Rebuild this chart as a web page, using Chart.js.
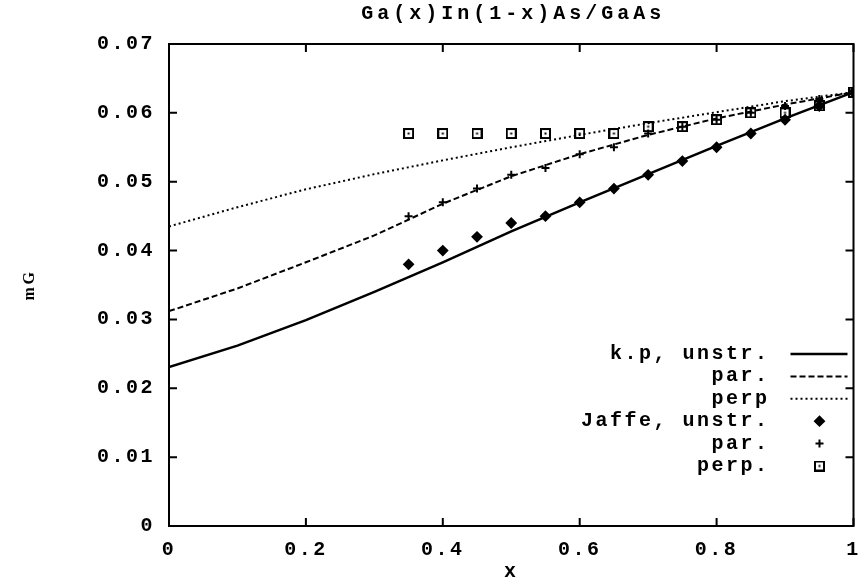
<!DOCTYPE html>
<html>
<head>
<meta charset="utf-8">
<script src="https://cdn.jsdelivr.net/npm/chart.js@4/dist/chart.umd.min.js"></script>
<style>
  body { margin: 0; background: #fff; }
  canvas { display: block; }
</style>
</head>
<body>
<canvas id="massChart" width="861" height="584"></canvas>
<script>
// k.p curves, sampled on a regular x grid
var xGrid = [0, 0.1, 0.2, 0.3, 0.4, 0.5, 0.6, 0.7, 0.8, 0.9, 1.0];
var kpUnstr = [0.0231, 0.0262, 0.0299, 0.0340, 0.0383, 0.0428, 0.0470, 0.0511, 0.0552, 0.0592, 0.0630];
var kpPar   = [0.0312, 0.0345, 0.0383, 0.0422, 0.0468, 0.0508, 0.0540, 0.0568, 0.0592, 0.0612, 0.0630];
var kpPerp  = [0.0435, 0.0463, 0.0489, 0.0511, 0.0531, 0.0550, 0.0568, 0.0585, 0.0601, 0.0617, 0.0630];

// Jaffe points
var jaffeX     = [0.35, 0.40, 0.45, 0.50, 0.55, 0.60, 0.65, 0.70, 0.75, 0.80, 0.85, 0.90, 0.95, 1.00];
var jaffeUnstr = [0.038, 0.040, 0.042, 0.044, 0.045, 0.047, 0.049, 0.051, 0.053, 0.055, 0.057, 0.059, 0.061, 0.063];
var jaffePar   = [0.045, 0.047, 0.049, 0.051, 0.052, 0.054, 0.055, 0.057, 0.058, 0.059, 0.060, 0.061, 0.062, 0.063];
var jaffePerp  = [0.057, 0.057, 0.057, 0.057, 0.057, 0.057, 0.057, 0.058, 0.058, 0.059, 0.060, 0.060, 0.061, 0.063];

var xTickLabels = ['0', '0.2', '0.4', '0.6', '0.8', '1'];
var yTickLabels = ['0', '0.01', '0.02', '0.03', '0.04', '0.05', '0.06', '0.07'];
var legendLabels = ['k.p, unstr.', 'par.', 'perp', 'Jaffe, unstr.', 'par.', 'perp.'];
var chartTitle = 'Ga(x)In(1-x)As/GaAs';

var monoFont = '"Liberation Mono", "DejaVu Sans Mono", monospace';

function pairs(xs, ys) {
    return xs.map(function(x, i) { return { x: x, y: ys[i] }; });
}

// hollow square with a dot in the middle
function squareMark() {
    var c = document.createElement('canvas');
    c.width = 11; c.height = 11;
    var g = c.getContext('2d');
    g.fillStyle = '#000';
    g.fillRect(0, 0, 11, 11);
    g.fillStyle = '#fff';
    g.fillRect(2, 2, 7, 7);
    g.fillStyle = '#000';
    g.fillRect(4.5, 4.5, 2, 2);
    return c;
}
var squareImg = squareMark();

function lineSet(label, ys, dash, width) {
    return {
        label: label,
        data: pairs(xGrid, ys),
        showLine: true,
        borderColor: '#000',
        borderWidth: width,
        borderDash: dash,
        pointRadius: 0,
        fill: false
    };
}

function pointSet(label, ys, style, radius) {
    return {
        label: label,
        data: pairs(jaffeX, ys),
        showLine: false,
        pointStyle: style,
        pointRadius: radius,
        backgroundColor: '#000',
        borderColor: '#000',
        borderWidth: 2
    };
}

var datasets = [
    lineSet(legendLabels[0], kpUnstr, [], 2.5),
    lineSet(legendLabels[1], kpPar, [6, 3], 2),
    lineSet(legendLabels[2], kpPerp, [2, 3], 2),
    pointSet(legendLabels[3], jaffeUnstr, 'rectRot', 4.5),
    pointSet(legendLabels[4], jaffePar, 'cross', 4),
    pointSet(legendLabels[5], jaffePerp, squareImg, 5.5)
];

// typewriter spacing for every label
var spacingPlugin = {
    id: 'spacing',
    beforeDraw: function(chart) { chart.ctx.letterSpacing = '2.5px'; }
};

// frame with inward ticks, title and the key in the lower right
var framePlugin = {
    id: 'frame',
    afterDraw: function(chart) {
        var ctx = chart.ctx;
        var a = chart.chartArea;
        var xs = chart.scales.x, ys = chart.scales.y;
        var tick = 8;
        ctx.save();
        ctx.strokeStyle = '#000';
        ctx.lineWidth = 2;
        ctx.strokeRect(a.left, a.top, a.right - a.left, a.bottom - a.top);
        ctx.beginPath();
        xs.ticks.forEach(function(t) {
            var px = xs.getPixelForValue(t.value);
            ctx.moveTo(px, a.bottom); ctx.lineTo(px, a.bottom - tick);
            ctx.moveTo(px, a.top); ctx.lineTo(px, a.top + tick);
        });
        ys.ticks.forEach(function(t) {
            var py = ys.getPixelForValue(t.value);
            ctx.moveTo(a.left, py); ctx.lineTo(a.left + tick, py);
            ctx.moveTo(a.right, py); ctx.lineTo(a.right - tick, py);
        });
        ctx.stroke();

        ctx.fillStyle = '#000';
        ctx.font = 'bold 20px ' + monoFont;
        ctx.letterSpacing = '4px';
        ctx.textAlign = 'center';
        ctx.textBaseline = 'middle';
        ctx.fillText(chartTitle, (a.left + a.right) / 2 + 2, 14);

        // key
        var textRight = a.right - 84;
        var y0 = a.top + 310;
        var step = 22.4;
        ctx.letterSpacing = '2.5px';
        ctx.font = 'bold 20px ' + monoFont;
        ctx.textAlign = 'right';
        chart.data.datasets.forEach(function(ds, i) {
            var y = y0 + i * step;
            ctx.fillText(ds.label, textRight, y);
            if (ds.showLine) {
                ctx.save();
                ctx.lineWidth = ds.borderWidth;
                ctx.setLineDash(ds.borderDash);
                ctx.beginPath();
                ctx.moveTo(a.right - 63, y);
                ctx.lineTo(a.right - 6, y);
                ctx.stroke();
                ctx.restore();
            } else {
                Chart.helpers.drawPoint(ctx, {
                    pointStyle: ds.pointStyle,
                    radius: ds.pointRadius,
                    rotation: 0,
                    borderWidth: ds.borderWidth
                }, a.right - 34, y);
            }
        });
        ctx.restore();
    }
};

var ctx = document.getElementById('massChart').getContext('2d');
var massChart = new Chart(ctx, {
    type: 'scatter',
    data: { datasets: datasets },
    options: {
        responsive: false,
        animation: false,
        layout: { padding: { left: 0, top: 44, right: 5, bottom: 0 } },
        plugins: {
            legend: { display: false },
            tooltip: { enabled: false }
        },
        scales: {
            x: {
                type: 'linear',
                min: 0,
                max: 1,
                afterFit: function(scale) {
                    scale.height = 58;
                    scale.paddingLeft = 0;
                    scale.paddingRight = 0;
                },
                ticks: {
                    stepSize: 0.2,
                    padding: 12,
                    color: '#000',
                    font: { family: monoFont, size: 20, weight: 'bold' },
                    callback: function(value, index) { return xTickLabels[index]; }
                },
                grid: { display: false, drawTicks: false },
                border: { display: false },
                title: {
                    display: true,
                    text: 'x',
                    color: '#000',
                    padding: { top: 0, bottom: 0 },
                    font: { family: monoFont, size: 20, weight: 'bold' }
                }
            },
            y: {
                type: 'linear',
                min: 0,
                max: 0.07,
                afterFit: function(scale) { scale.width = 169; },
                ticks: {
                    stepSize: 0.01,
                    padding: 14,
                    color: '#000',
                    font: { family: monoFont, size: 20, weight: 'bold' },
                    callback: function(value, index) { return yTickLabels[index]; }
                },
                grid: { display: false, drawTicks: false },
                border: { display: false },
                title: {
                    display: true,
                    text: 'mG',
                    color: '#000',
                    padding: { top: 20, bottom: 0 },
                    font: { family: '"Liberation Serif", serif', size: 16, weight: 'bold' }
                }
            }
        }
    },
    plugins: [spacingPlugin, framePlugin]
});
</script>
</body>
</html>
